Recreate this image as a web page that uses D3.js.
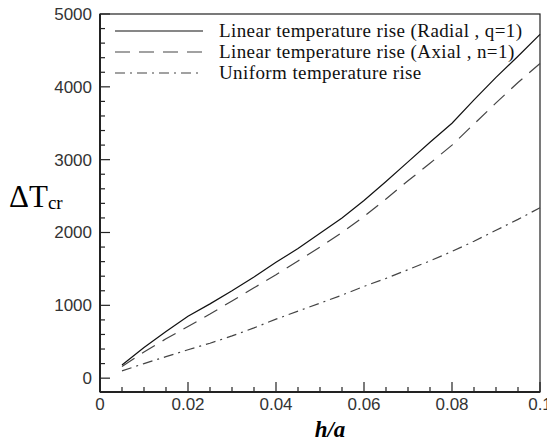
<!DOCTYPE html>
<html>
<head>
<meta charset="utf-8">
<script src="https://cdn.jsdelivr.net/npm/d3@7"></script>
<style>
  body { margin: 0; background: #fff; }
  svg { display: block; }
</style>
</head>
<body>
<div id="chart"></div>
<script>
// h/a values
var ha = [0.005, 0.01, 0.015, 0.02, 0.025, 0.03, 0.035, 0.04, 0.045, 0.05,
          0.055, 0.06, 0.065, 0.07, 0.075, 0.08, 0.085, 0.09, 0.095, 0.1];
// critical temperature rise for each loading
var radial = [180, 420, 640, 850, 1020, 1200, 1390, 1590, 1780, 1990,
              2200, 2440, 2700, 2970, 3240, 3500, 3820, 4130, 4420, 4720];
var axial = [160, 360, 540, 710, 880, 1060, 1240, 1420, 1610, 1800,
             2000, 2220, 2460, 2710, 2950, 3200, 3490, 3780, 4060, 4320];
var uniform = [100, 200, 295, 390, 480, 580, 690, 810, 920, 1030,
               1140, 1260, 1370, 1490, 1610, 1740, 1880, 2030, 2180, 2340];

var seriesNames = ["Linear temperature rise (Radial , q=1)",
                   "Linear temperature rise (Axial , n=1)",
                   "Uniform temperature rise"];
var xTicks = [0, 0.02, 0.04, 0.06, 0.08, 0.1];
var xTickLabels = ["0", "0.02", "0.04", "0.06", "0.08", "0.1"];
var yTicks = [0, 1000, 2000, 3000, 4000, 5000];

var width = 547, height = 443;
var plotLeft = 100, plotRight = 540, plotTop = 14, plotBottom = 392;

var svg = d3.select("#chart").append("svg")
    .attr("width", width).attr("height", height);

var x = d3.scaleLinear().domain([0, 0.1]).range([plotLeft, plotRight]);
var y = d3.scaleLinear().domain([-190, 5000]).range([plotBottom, plotTop]);

//frame
svg.append("rect")
    .attr("x", plotLeft).attr("y", plotTop)
    .attr("width", plotRight - plotLeft).attr("height", plotBottom - plotTop)
    .attr("fill", "none").attr("stroke", "#222").attr("stroke-width", 1.2);

//ticks pointing inward, minor every 0.005 / 200
var xMinor = d3.range(0, 0.1001, 0.005);
var yMinor = d3.range(0, 5001, 200);

svg.selectAll(".xminor").data(xMinor).enter().append("line")
    .attr("x1", function (d) { return x(d); }).attr("x2", function (d) { return x(d); })
    .attr("y1", plotBottom).attr("y2", function (d, i) { return plotBottom - (i % 4 === 0 ? 10 : 5); })
    .attr("stroke", "#222").attr("stroke-width", 1.2);

svg.selectAll(".yminor").data(yMinor).enter().append("line")
    .attr("y1", function (d) { return y(d); }).attr("y2", function (d) { return y(d); })
    .attr("x1", plotLeft).attr("x2", function (d, i) { return plotLeft + (i % 5 === 0 ? 10 : 5); })
    .attr("stroke", "#222").attr("stroke-width", 1.2);

//heavier left and bottom axis lines
svg.append("line").attr("x1", plotLeft).attr("x2", plotLeft).attr("y1", plotTop).attr("y2", plotBottom)
    .attr("stroke", "#222").attr("stroke-width", 2);
svg.append("line").attr("x1", plotLeft).attr("x2", plotRight).attr("y1", plotBottom).attr("y2", plotBottom)
    .attr("stroke", "#222").attr("stroke-width", 2);

svg.selectAll(".xlab").data(xTicks).enter().append("text")
    .attr("x", function (d) { return x(d); }).attr("y", 410)
    .attr("text-anchor", "middle")
    .attr("font-family", "Liberation Sans, Arial, sans-serif").attr("font-size", 17)
    .attr("fill", "#333")
    .text(function (d, i) { return xTickLabels[i]; });

svg.selectAll(".ylab").data(yTicks).enter().append("text")
    .attr("x", 92).attr("y", function (d) { return y(d) + 6; })
    .attr("text-anchor", "end")
    .attr("font-family", "Liberation Sans, Arial, sans-serif").attr("font-size", 17)
    .attr("fill", "#333")
    .text(function (d) { return d; });

//axis titles
svg.append("text").attr("x", 330).attr("y", 437)
    .attr("text-anchor", "middle")
    .attr("font-family", "Liberation Serif, Times New Roman, serif")
    .attr("font-size", 23).attr("font-weight", "bold").attr("font-style", "italic")
    .text("h/a");

var yt = svg.append("text").attr("x", 9).attr("y", 207)
    .attr("font-family", "Liberation Serif, Times New Roman, serif")
    .attr("font-size", 31);
yt.append("tspan").text("\u0394T");
yt.append("tspan").attr("font-size", 19).attr("dy", 2).text("cr");

//series
var styles = [
    { data: radial, dash: null, color: "#111", w: 1.2 },
    { data: axial, dash: "15,9", color: "#444", w: 1.2 },
    { data: uniform, dash: "10,5,2,5", color: "#444", w: 1.2 }
];

var line = d3.line()
    .x(function (d) { return x(d[0]); })
    .y(function (d) { return y(d[1]); });

styles.forEach(function (s) {
    svg.append("path")
        .datum(ha.map(function (h, i) { return [h, s.data[i]]; }))
        .attr("d", line)
        .attr("fill", "none")
        .attr("stroke", s.color)
        .attr("stroke-width", s.w)
        .attr("stroke-dasharray", s.dash);
});

//legend
var legendY = [31, 52, 73];
styles.forEach(function (s, i) {
    svg.append("line")
        .attr("x1", 115).attr("x2", 203)
        .attr("y1", legendY[i]).attr("y2", legendY[i])
        .attr("stroke", s.color).attr("stroke-width", s.w)
        .attr("stroke-dasharray", s.dash);
    svg.append("text")
        .attr("x", 219).attr("y", legendY[i] + 6)
        .attr("font-family", "Liberation Serif, Times New Roman, serif")
        .attr("font-size", 19).attr("letter-spacing", 0.4).attr("fill", "#111")
        .text(seriesNames[i]);
});
</script>
</body>
</html>
